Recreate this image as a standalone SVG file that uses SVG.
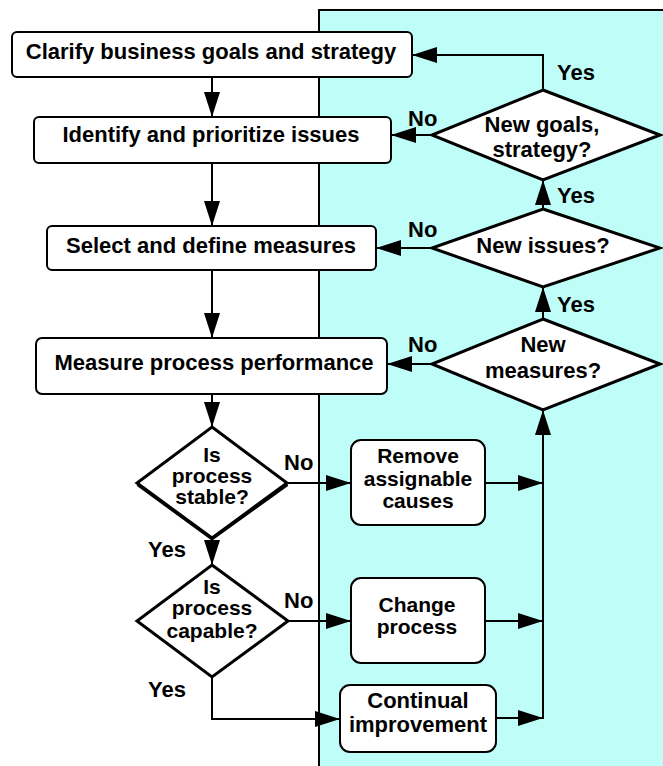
<svg xmlns="http://www.w3.org/2000/svg" width="663" height="766" viewBox="0 0 663 766">
<defs>
<style>
.box{fill:#fff;stroke:#000;stroke-width:2}
.dia{fill:#fff;stroke:#000;stroke-width:3;stroke-linejoin:miter}
.t{font-family:"Liberation Sans",Arial,sans-serif;font-weight:bold;font-size:22px;fill:#000;text-anchor:middle}
.s{font-size:21px}
.l{font-family:"Liberation Sans",Arial,sans-serif;font-weight:bold;font-size:22px;fill:#000}
.c{fill:none;stroke:#000;stroke-width:2;marker-end:url(#ah)}
</style>
<marker id="ah" viewBox="0 0 25 16" refX="25" refY="8" markerWidth="25" markerHeight="16" markerUnits="userSpaceOnUse" orient="auto">
<path d="M0,0 L25,8 L0,16 z" fill="#000"/>
</marker>
</defs>
<rect x="319" y="10" width="360" height="770" fill="#BFFDF8" stroke="#000" stroke-width="2"/>

<g id="connectors">
<path class="c" d="M212,77 L212,117"/>
<path class="c" d="M212,163 L212,226"/>
<path class="c" d="M212,270 L212,338"/>
<path class="c" d="M212,394 L212,427"/>
<path class="c" d="M212,538 L212,565"/>
<path class="c" d="M287,483 L351,483"/>
<path class="c" d="M288,621 L351,621"/>
<path class="c" d="M212,677 L212,719 L340,719"/>
<path class="c" d="M485,483 L543,483"/>
<path class="c" d="M485,621 L543,621"/>
<path class="c" d="M496,718 L543,718"/>
<path class="c" d="M543,719 L543,410"/>
<path class="c" d="M543,319 L543,287"/>
<path class="c" d="M543,209 L543,180"/>
<path class="c" d="M543,90 L543,55 L412,55"/>
<path class="c" d="M432,135 L391,135"/>
<path class="c" d="M432,248 L376,248"/>
<path class="c" d="M432,364 L387,364"/>
</g>

<g id="labels">
<text class="l" x="557" y="80">Yes</text>
<text class="l" x="408" y="126">No</text>
<text class="l" x="557" y="203">Yes</text>
<text class="l" x="408" y="237">No</text>
<text class="l" x="557" y="312">Yes</text>
<text class="l" x="408" y="352">No</text>
<text class="l" x="284" y="470">No</text>
<text class="l" x="148" y="557">Yes</text>
<text class="l" x="284" y="608">No</text>
<text class="l" x="148" y="697">Yes</text>
</g>

<g id="clarify">
<rect class="box" x="12" y="32" width="400" height="45" rx="5"/>
<text class="t" x="211" y="59">Clarify business goals and strategy</text>
</g>
<g id="identify">
<rect class="box" x="34" y="117" width="357" height="46" rx="5"/>
<text class="t" x="211" y="142">Identify and prioritize issues</text>
</g>
<g id="select">
<rect class="box" x="47" y="226" width="329" height="44" rx="5"/>
<text class="t" x="211" y="253">Select and define measures</text>
</g>
<g id="measure">
<rect class="box" x="36" y="338" width="351" height="56" rx="6"/>
<text class="t" x="214" y="370">Measure process performance</text>
</g>

<g id="new-goals">
<polygon class="dia" points="543,90 660,135 543,180 432,135"/>
<text class="t" x="542" y="132">New goals,</text>
<text class="t" x="542" y="157">strategy?</text>
</g>
<g id="new-issues">
<polygon class="dia" points="543,209 660,248 543,287 432,248"/>
<text class="t" x="543" y="253">New issues?</text>
</g>
<g id="new-measures">
<polygon class="dia" points="543,319 660,364 543,410 432,364"/>
<text class="t" x="543" y="352">New</text>
<text class="t" x="543" y="378">measures?</text>
</g>

<g id="stable">
<polyline points="137.5,484.5 212,539 287.5,484.5" fill="none" stroke="#000" stroke-width="3"/>
<polygon class="dia" points="212,427 287,483 212,538 137,483"/>
<text class="t s" x="212" y="462">Is</text>
<text class="t s" x="212" y="483">process</text>
<text class="t s" x="212" y="504">stable?</text>
</g>
<g id="capable">
<polygon class="dia" points="212,565 288,621 212,677 137,621"/>
<text class="t s" x="212" y="594">Is</text>
<text class="t s" x="212" y="615">process</text>
<text class="t s" x="212" y="638">capable?</text>
</g>

<g id="remove">
<rect class="box" x="351" y="440" width="134" height="85" rx="10"/>
<text class="t s" x="418" y="463">Remove</text>
<text class="t s" x="418" y="486">assignable</text>
<text class="t s" x="418" y="508">causes</text>
</g>
<g id="change">
<rect class="box" x="351" y="578" width="134" height="85" rx="10"/>
<text class="t s" x="417" y="612">Change</text>
<text class="t s" x="417" y="634">process</text>
</g>
<g id="continual">
<rect class="box" x="340" y="685" width="156" height="67" rx="10"/>
<text class="t" x="418" y="708">Continual</text>
<text class="t" x="418" y="732">improvement</text>
</g>
</svg>
